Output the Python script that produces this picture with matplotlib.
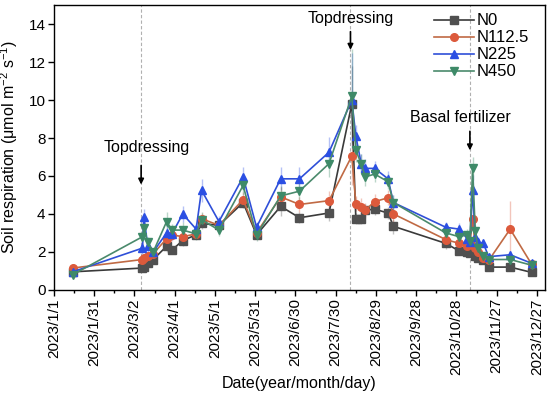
import numpy as np
import pandas as pd
import matplotlib
matplotlib.use("Agg")
import matplotlib.pyplot as plt
import matplotlib.dates as mdates
from matplotlib.ticker import FuncFormatter

plt.rcParams['font.family'] = ['Liberation Sans', 'DejaVu Sans']
plt.rcParams['mathtext.default'] = 'regular'

dates = ["2023-01-15", "2023-03-08", "2023-03-09", "2023-03-12", "2023-03-16",
         "2023-03-26", "2023-03-30", "2023-04-07", "2023-04-17", "2023-04-21",
         "2023-05-04", "2023-05-22", "2023-06-01", "2023-06-19", "2023-07-03",
         "2023-07-25", "2023-08-11", "2023-08-14", "2023-08-18", "2023-08-21",
         "2023-08-28", "2023-09-07", "2023-09-11", "2023-10-20", "2023-10-30",
         "2023-11-05", "2023-11-07", "2023-11-09", "2023-11-11", "2023-11-13",
         "2023-11-17", "2023-11-21", "2023-12-07", "2023-12-23"]

n0 = [0.95, 1.15, 1.2, 1.4, 1.6, 2.3, 2.1, 2.6, 2.9, 3.5, 3.4, 4.6, 2.9, 4.4, 3.8,
      4.05, 9.8, 3.75, 3.75, 4.2, 4.25, 4.05, 3.35, 2.45, 2.05, 2.0, 1.95, 2.0, 1.8,
      1.7, 1.6, 1.2, 1.2, 0.92]
n112 = [1.15, 1.6, 1.7, 1.8, 1.9, 2.7, 2.9, 2.8, 2.95, 3.75, 3.4, 4.75, 3.0, 4.9, 4.5,
        4.7, 7.05, 4.55, 4.35, 4.2, 4.65, 4.85, 4.0, 2.65, 2.45, 2.3, 2.4, 3.75, 2.2,
        2.0, 1.7, 1.55, 3.2, 1.35]
n225 = [0.95, 2.2, 3.85, 2.3, 2.0, 3.0, 2.95, 4.0, 3.2, 5.25, 3.6, 5.95, 3.3, 5.85, 5.85,
        7.25, 10.0, 8.1, 6.65, 6.4, 6.4, 5.85, 4.6, 3.3, 3.2, 2.7, 2.5, 5.25, 2.8,
        2.5, 2.45, 1.75, 1.85, 1.4]
n450 = [0.8, 2.8, 3.25, 2.5, 2.0, 3.6, 3.15, 3.15, 2.95, 3.7, 3.15, 5.5, 2.9, 4.95, 5.2,
        6.65, 10.2, 7.35, 6.65, 5.95, 6.1, 5.7, 4.6, 3.0, 2.8, 2.9, 2.6, 6.4, 3.1,
        2.2, 1.8, 1.6, 1.6, 1.3]

# standard errors (rough)
e0 = [0.1, 0.1, 0.15, 0.2, 0.2, 0.3, 0.2, 0.3, 0.2, 0.3, 0.3, 0.3, 0.2, 0.5, 0.3,
      0.4, 2.0, 0.3, 0.3, 0.3, 0.3, 0.3, 0.4, 0.3, 0.2, 0.2, 0.2, 0.2, 0.2, 0.2,
      0.2, 0.2, 0.2, 0.1]
e112 = [0.1, 0.2, 0.2, 0.2, 0.2, 0.3, 0.3, 0.3, 0.2, 0.3, 0.3, 0.4, 0.2, 0.5, 0.4,
        0.5, 1.5, 0.4, 0.5, 0.4, 0.4, 0.4, 0.4, 0.3, 0.3, 0.3, 0.3, 0.6, 0.3, 0.3,
        0.2, 0.2, 1.5, 0.1]
e225 = [0.1, 0.3, 0.4, 0.3, 0.2, 0.5, 0.3, 0.4, 0.3, 0.6, 0.3, 0.5, 0.3, 0.6, 0.6,
        0.8, 2.5, 0.6, 0.5, 0.5, 0.4, 0.4, 0.4, 0.3, 0.3, 0.3, 0.3, 0.8, 0.3, 0.3,
        0.2, 0.2, 0.2, 0.1]
e450 = [0.1, 0.3, 0.4, 0.3, 0.2, 0.5, 0.3, 0.4, 0.3, 0.4, 0.3, 0.5, 0.3, 0.5, 0.6,
        0.7, 2.5, 0.6, 0.5, 0.5, 0.4, 0.4, 0.4, 0.3, 0.3, 0.3, 0.3, 0.6, 0.3, 0.3,
        0.2, 0.2, 0.2, 0.1]

labels = ["N0", "N112.5", "N225", "N450"]
markers = ["s", "o", "^", "v"]
mcolors = ["#505050", "#dc5a3c", "#2b4fe3", "#3e8a68"]
lcolors = ["#3a3a3a", "#c06a44", "#2f4fd8", "#4a8a6c"]

events = ["2023-03-07", "2023-08-10", "2023-11-07"]
event_text = ["Topdressing", "Topdressing", "Basal fertilizer"]
text_pos = ["2023-03-11", "2023-08-10", "2023-10-31"]
text_y = [7.5, 14.3, 9.1]
arrow_y = [(6.7, 5.4), (13.75, 12.5), (8.5, 7.2)]

x = pd.to_datetime(dates)

fig = plt.figure(figsize=(5.5, 3.96), dpi=100)
ax = fig.add_axes([0.098, 0.268, 0.893, 0.719])

for ev in events:
    ax.axvline(pd.Timestamp(ev), color="#b0b0b0", lw=0.8, ls=(0, (3, 2)), zorder=0)

for y, e, lab, m, mc, lc in zip([n0, n112, n225, n450], [e0, e112, e225, e450],
                                 labels, markers, mcolors, lcolors):
    ax.errorbar(x, y, yerr=e, fmt="none", ecolor=mc, alpha=0.35, lw=1, zorder=1)
    ax.plot(x, y, color=lc, lw=1.2, marker=m, markersize=5.5, markerfacecolor=mc,
            markeredgecolor=mc, label=lab, zorder=2)

for ev, t, tx, ty, (a0, a1) in zip(events, event_text, text_pos, text_y, arrow_y):
    ax.annotate("", xy=(pd.Timestamp(ev), a1), xytext=(pd.Timestamp(ev), a0),
                arrowprops=dict(arrowstyle="-|>", color="black", lw=1.2, mutation_scale=8))
    ax.text(pd.Timestamp(tx), ty, t, ha="center", va="center", fontsize=11.5)

ax.set_xlim(pd.Timestamp("2023-01-01"), pd.Timestamp("2024-01-02"))
ax.set_ylim(0, 15)
ax.set_yticks(np.arange(0, 15, 2))

start = pd.Timestamp("2023-01-01")
major = [start + pd.Timedelta(days=30 * i) for i in range(13)]
minor = [start + pd.Timedelta(days=15 + 30 * i) for i in range(12)]
ax.set_xticks(major)
ax.set_xticks(minor, minor=True)
ax.xaxis.set_major_formatter(FuncFormatter(
    lambda v, p: "{0}/{1}/{2}".format(mdates.num2date(v).year, mdates.num2date(v).month,
                                      mdates.num2date(v).day)))
plt.setp(ax.get_xticklabels(), rotation=90)

ax.tick_params(axis="both", direction="out", labelsize=11, length=4, width=1, pad=2)
ax.tick_params(axis="x", which="minor", direction="out", length=2.5, width=1)
for s in ax.spines.values():
    s.set_linewidth(1)

ax.set_xlabel("Date(year/month/day)", fontsize=11.5, labelpad=1)
ax.set_ylabel("Soil respiration (\u03bcmol m$^{-2}$ s$^{-1}$)", fontsize=11.5, labelpad=6)

ax.legend(loc="upper right", frameon=False, fontsize=12, handlelength=2.4,
          handletextpad=0.15, labelspacing=0.12, borderaxespad=0.1,
          bbox_to_anchor=(0.985, 1.0))

fig.savefig("out.png", dpi=100)
